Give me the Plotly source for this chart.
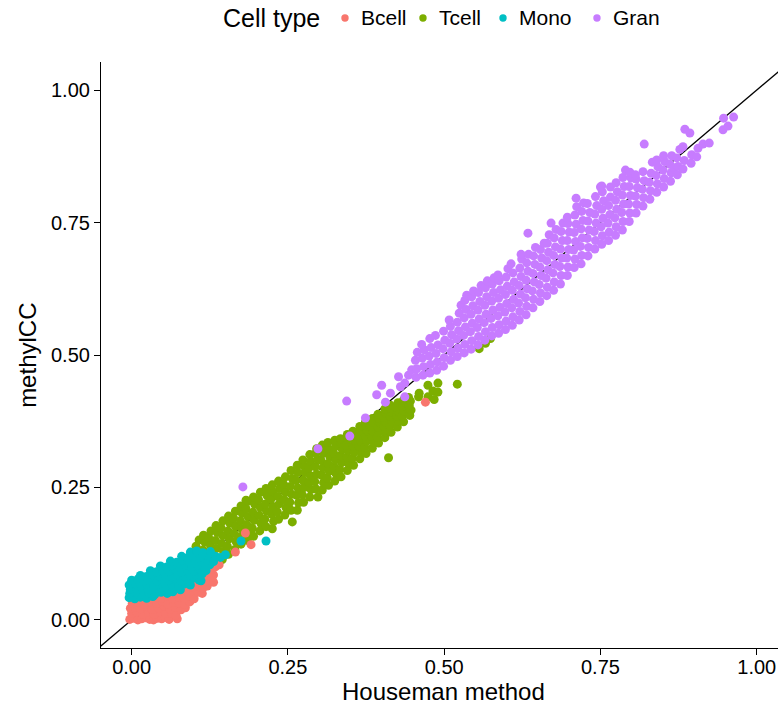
import plotly.graph_objects as go

# ---- data ----
cell_types = ["Bcell", "Tcell", "Mono", "Gran"]
colors = {"Bcell": "#F8766D", "Tcell": "#7CAE00", "Mono": "#00BFC4", "Gran": "#C77CFF"}
tick_vals = [0.0, 0.25, 0.5, 0.75, 1.0]
tick_text = ["0.00", "0.25", "0.50", "0.75", "1.00"]

bcell_pts = [
    (-0.003, 0.001), (0.004, 0.003), (0.010, 0.000), (0.016, 0.002), (0.022, 0.004), (0.029, 0.001),
    (0.035, 0.000), (0.041, 0.003), (0.048, 0.002), (0.054, 0.005), (0.060, 0.001), (0.073, 0.002),
    (0.000, 0.012), (0.008, 0.015), (0.018, 0.011), (0.027, 0.014), (0.036, 0.010), (0.045, 0.016),
    (0.055, 0.012), (0.064, 0.013), (0.071, 0.009),
    (-0.002, 0.022), (0.006, 0.024), (0.014, 0.021), (0.024, 0.025), (0.033, 0.020), (0.043, 0.023),
    (0.052, 0.026), (0.061, 0.021), (0.070, 0.024), (0.079, 0.019), (0.086, 0.023),
    (0.001, 0.031), (0.011, 0.033), (0.020, 0.030), (0.030, 0.034), (0.040, 0.031), (0.049, 0.035),
    (0.058, 0.030), (0.067, 0.033), (0.076, 0.032), (0.085, 0.029), (0.093, 0.034),
    (0.015, 0.042), (0.026, 0.040), (0.037, 0.043), (0.047, 0.041), (0.057, 0.044), (0.066, 0.040),
    (0.075, 0.043), (0.084, 0.041), (0.093, 0.045), (0.100, 0.040),
    (0.045, 0.052), (0.055, 0.050), (0.064, 0.054), (0.073, 0.051), (0.082, 0.053), (0.091, 0.050),
    (0.099, 0.055), (0.106, 0.052), (0.113, 0.050),
    (0.070, 0.062), (0.080, 0.060), (0.089, 0.064), (0.098, 0.061), (0.106, 0.063), (0.114, 0.060),
    (0.121, 0.064),
    (0.092, 0.074), (0.101, 0.072), (0.110, 0.076), (0.118, 0.073), (0.126, 0.075), (0.131, 0.071),
    (0.108, 0.086), (0.116, 0.084), (0.124, 0.088), (0.131, 0.085), (0.129, 0.081),
    (0.118, 0.098), (0.127, 0.096), (0.134, 0.100), (0.125, 0.108), (0.133, 0.110), (0.140, 0.104),
    (0.166, 0.128), (0.182, 0.164), (0.191, 0.142), (0.470, 0.411),
]

tcell_pts = [
    (0.105, 0.076), (0.107, 0.092), (0.104, 0.108), (0.106, 0.124), (0.103, 0.139), (0.108, 0.151),
    (0.115, 0.086), (0.113, 0.101), (0.116, 0.117), (0.114, 0.132), (0.117, 0.147), (0.115, 0.160),
    (0.125, 0.094), (0.127, 0.110), (0.124, 0.125), (0.126, 0.141), (0.123, 0.156), (0.127, 0.168),
    (0.135, 0.104), (0.133, 0.119), (0.136, 0.135), (0.134, 0.150), (0.137, 0.165), (0.135, 0.178),
    (0.145, 0.114), (0.147, 0.129), (0.144, 0.144), (0.146, 0.159), (0.143, 0.174), (0.146, 0.187),
    (0.155, 0.124), (0.153, 0.139), (0.156, 0.153), (0.154, 0.168), (0.157, 0.183), (0.155, 0.196),
    (0.165, 0.133), (0.167, 0.148), (0.164, 0.163), (0.166, 0.177), (0.163, 0.192), (0.166, 0.205),
    (0.175, 0.143), (0.173, 0.157), (0.176, 0.172), (0.174, 0.187), (0.177, 0.201), (0.175, 0.215),
    (0.185, 0.150), (0.187, 0.165), (0.184, 0.180), (0.186, 0.195), (0.183, 0.210), (0.186, 0.224),
    (0.195, 0.158), (0.193, 0.173), (0.196, 0.188), (0.194, 0.203), (0.197, 0.218), (0.195, 0.232),
    (0.205, 0.168), (0.207, 0.182), (0.204, 0.197), (0.206, 0.212), (0.203, 0.227), (0.206, 0.241),
    (0.215, 0.176), (0.213, 0.190), (0.216, 0.205), (0.214, 0.219), (0.217, 0.234), (0.215, 0.248),
    (0.225, 0.172), (0.227, 0.186), (0.224, 0.200), (0.226, 0.214), (0.223, 0.228), (0.226, 0.242), (0.225, 0.255),
    (0.235, 0.190), (0.233, 0.204), (0.236, 0.219), (0.234, 0.233), (0.237, 0.248), (0.235, 0.262),
    (0.245, 0.198), (0.247, 0.212), (0.244, 0.227), (0.246, 0.241), (0.243, 0.256), (0.246, 0.270),
    (0.257, 0.185), (0.255, 0.207), (0.253, 0.222), (0.256, 0.237), (0.254, 0.252), (0.257, 0.267), (0.255, 0.282),
    (0.265, 0.207), (0.267, 0.221), (0.264, 0.235), (0.266, 0.249), (0.263, 0.263), (0.266, 0.278), (0.265, 0.292),
    (0.275, 0.222), (0.273, 0.236), (0.276, 0.250), (0.274, 0.264), (0.277, 0.278), (0.275, 0.291), (0.274, 0.302),
    (0.285, 0.232), (0.287, 0.246), (0.284, 0.259), (0.286, 0.272), (0.283, 0.286), (0.286, 0.299), (0.285, 0.312),
    (0.298, 0.232), (0.295, 0.247), (0.293, 0.261), (0.296, 0.275), (0.294, 0.289), (0.297, 0.303), (0.295, 0.315), (0.296, 0.323),
    (0.305, 0.245), (0.307, 0.259), (0.304, 0.273), (0.306, 0.287), (0.303, 0.301), (0.306, 0.315), (0.305, 0.330),
    (0.315, 0.254), (0.313, 0.268), (0.316, 0.281), (0.314, 0.295), (0.317, 0.308), (0.315, 0.322), (0.314, 0.335),
    (0.325, 0.262), (0.327, 0.276), (0.324, 0.289), (0.326, 0.302), (0.323, 0.315), (0.326, 0.327), (0.325, 0.339),
    (0.335, 0.270), (0.333, 0.284), (0.336, 0.297), (0.334, 0.310), (0.337, 0.322), (0.335, 0.333), (0.334, 0.342),
    (0.345, 0.282), (0.347, 0.295), (0.344, 0.307), (0.346, 0.319), (0.343, 0.330), (0.346, 0.341), (0.345, 0.350),
    (0.355, 0.292), (0.353, 0.305), (0.356, 0.317), (0.354, 0.328), (0.357, 0.339), (0.355, 0.348), (0.354, 0.356),
    (0.365, 0.304), (0.367, 0.316), (0.364, 0.327), (0.366, 0.338), (0.363, 0.348), (0.366, 0.357), (0.365, 0.365),
    (0.375, 0.314), (0.373, 0.326), (0.376, 0.337), (0.374, 0.347), (0.377, 0.357), (0.375, 0.366), (0.374, 0.373),
    (0.385, 0.324), (0.387, 0.336), (0.384, 0.346), (0.386, 0.356), (0.383, 0.365), (0.386, 0.373), (0.385, 0.380),
    (0.395, 0.334), (0.393, 0.345), (0.396, 0.355), (0.394, 0.364), (0.397, 0.373), (0.395, 0.381), (0.394, 0.388),
    (0.405, 0.344), (0.407, 0.355), (0.404, 0.365), (0.406, 0.374), (0.403, 0.383), (0.406, 0.391), (0.405, 0.398),
    (0.415, 0.354), (0.413, 0.365), (0.416, 0.375), (0.414, 0.384), (0.417, 0.392), (0.415, 0.399), (0.414, 0.405),
    (0.425, 0.364), (0.427, 0.375), (0.424, 0.385), (0.426, 0.394), (0.423, 0.402), (0.426, 0.410),
    (0.435, 0.374), (0.433, 0.385), (0.436, 0.394), (0.434, 0.403), (0.437, 0.410), (0.435, 0.415),
    (0.445, 0.386), (0.447, 0.396), (0.444, 0.405), (0.446, 0.413), (0.443, 0.420),
    (0.411, 0.306), (0.183, 0.226),
    (0.459, 0.421), (0.460, 0.428), (0.474, 0.421), (0.474, 0.443),
    (0.482, 0.432), (0.484, 0.416), (0.490, 0.430), (0.490, 0.447),
    (0.521, 0.445), (0.556, 0.512), (0.566, 0.522), (0.574, 0.531),
]

mono_pts = [
    (-0.004, 0.042), (0.005, 0.040), (0.014, 0.043), (0.024, 0.041), (0.034, 0.044),
    (-0.003, 0.050), (0.007, 0.052), (0.017, 0.049), (0.027, 0.051), (0.037, 0.048), (0.047, 0.052),
    (0.057, 0.050), (0.066, 0.053),
    (-0.002, 0.058), (0.008, 0.056), (0.018, 0.059), (0.028, 0.057), (0.038, 0.060), (0.048, 0.056),
    (0.058, 0.058), (0.068, 0.060), (0.078, 0.057),
    (-0.004, 0.066), (0.006, 0.068), (0.015, 0.065), (0.025, 0.067), (0.035, 0.064), (0.045, 0.068),
    (0.055, 0.065), (0.065, 0.067), (0.075, 0.064), (0.085, 0.068), (0.094, 0.066),
    (0.000, 0.075), (0.010, 0.077), (0.020, 0.074), (0.030, 0.076), (0.040, 0.073), (0.050, 0.077),
    (0.060, 0.075), (0.070, 0.078), (0.080, 0.074), (0.090, 0.076), (0.100, 0.079), (0.108, 0.075),
    (0.014, 0.084), (0.024, 0.082), (0.034, 0.085), (0.044, 0.083), (0.054, 0.086), (0.064, 0.082),
    (0.074, 0.085), (0.084, 0.083), (0.094, 0.086), (0.104, 0.084), (0.113, 0.087),
    (0.030, 0.093), (0.040, 0.091), (0.050, 0.094), (0.060, 0.092), (0.070, 0.095), (0.080, 0.091),
    (0.090, 0.094), (0.100, 0.092), (0.110, 0.095), (0.119, 0.093),
    (0.046, 0.102), (0.056, 0.100), (0.066, 0.103), (0.076, 0.101), (0.086, 0.104), (0.096, 0.100),
    (0.106, 0.103), (0.116, 0.101), (0.125, 0.104),
    (0.062, 0.111), (0.072, 0.109), (0.082, 0.112), (0.092, 0.110), (0.102, 0.113), (0.112, 0.109),
    (0.122, 0.112), (0.131, 0.110),
    (0.080, 0.120), (0.090, 0.118), (0.100, 0.121), (0.110, 0.119), (0.121, 0.122), (0.134, 0.120),
    (0.142, 0.118), (0.094, 0.128), (0.104, 0.130), (0.114, 0.127), (0.126, 0.129),
    (0.111, 0.074), (0.150, 0.123), (0.175, 0.149), (0.215, 0.149),
]

gran_pts = [
    (0.178, 0.251), (0.298, 0.323), (0.344, 0.413), (0.349, 0.347), (0.374, 0.381),
    (0.392, 0.425), (0.400, 0.443), (0.406, 0.411), (0.414, 0.428), (0.427, 0.459),
    (0.430, 0.440), (0.437, 0.421), (0.437, 0.447), (0.443, 0.462), (0.448, 0.472),
    (0.455, 0.458), (0.456, 0.474), (0.454, 0.490), (0.457, 0.505),
    (0.466, 0.462), (0.467, 0.478), (0.465, 0.494), (0.468, 0.510), (0.464, 0.520),
    (0.477, 0.466), (0.478, 0.482), (0.476, 0.498), (0.479, 0.514), (0.477, 0.531),
    (0.488, 0.471), (0.489, 0.487), (0.487, 0.503), (0.490, 0.519), (0.486, 0.537),
    (0.499, 0.479), (0.500, 0.495), (0.498, 0.512), (0.501, 0.528), (0.499, 0.545),
    (0.510, 0.490), (0.511, 0.506), (0.509, 0.522), (0.512, 0.538), (0.510, 0.554), (0.508, 0.566),
    (0.521, 0.497), (0.522, 0.513), (0.520, 0.530), (0.523, 0.546), (0.521, 0.562), (0.524, 0.579), (0.527, 0.594),
    (0.532, 0.504), (0.533, 0.520), (0.531, 0.537), (0.534, 0.553), (0.532, 0.570), (0.535, 0.586), (0.533, 0.603), (0.536, 0.613),
    (0.543, 0.511), (0.544, 0.527), (0.542, 0.544), (0.545, 0.560), (0.543, 0.577), (0.546, 0.593), (0.544, 0.610), (0.547, 0.621),
    (0.554, 0.519), (0.555, 0.535), (0.553, 0.552), (0.556, 0.568), (0.554, 0.585), (0.557, 0.601), (0.555, 0.618), (0.559, 0.631),
    (0.565, 0.528), (0.566, 0.544), (0.564, 0.561), (0.567, 0.577), (0.565, 0.594), (0.568, 0.610), (0.566, 0.627), (0.569, 0.640),
    (0.576, 0.536), (0.577, 0.552), (0.575, 0.569), (0.578, 0.585), (0.576, 0.602), (0.579, 0.618), (0.577, 0.634), (0.580, 0.646),
    (0.587, 0.541), (0.588, 0.557), (0.586, 0.574), (0.589, 0.590), (0.587, 0.607), (0.590, 0.623), (0.588, 0.640), (0.586, 0.651),
    (0.598, 0.548), (0.599, 0.564), (0.597, 0.581), (0.600, 0.597), (0.598, 0.614), (0.601, 0.630), (0.599, 0.647), (0.602, 0.663),
    (0.609, 0.556), (0.610, 0.572), (0.608, 0.589), (0.611, 0.605), (0.609, 0.622), (0.612, 0.638), (0.610, 0.655), (0.607, 0.672),
    (0.620, 0.566), (0.621, 0.582), (0.619, 0.598), (0.622, 0.615), (0.620, 0.631), (0.623, 0.648), (0.621, 0.664), (0.624, 0.681), (0.623, 0.690),
    (0.631, 0.576), (0.632, 0.592), (0.630, 0.608), (0.633, 0.625), (0.631, 0.641), (0.634, 0.658), (0.632, 0.674), (0.635, 0.690), (0.634, 0.730),
    (0.642, 0.589), (0.643, 0.605), (0.641, 0.621), (0.644, 0.638), (0.642, 0.654), (0.645, 0.671), (0.643, 0.687), (0.646, 0.703),
    (0.653, 0.601), (0.654, 0.617), (0.652, 0.633), (0.655, 0.650), (0.653, 0.666), (0.656, 0.683), (0.654, 0.699), (0.660, 0.711),
    (0.664, 0.612), (0.665, 0.628), (0.663, 0.645), (0.666, 0.661), (0.664, 0.678), (0.667, 0.694), (0.665, 0.711), (0.668, 0.727), (0.671, 0.749),
    (0.675, 0.622), (0.676, 0.638), (0.674, 0.655), (0.677, 0.671), (0.675, 0.688), (0.678, 0.704), (0.676, 0.721), (0.679, 0.737),
    (0.686, 0.634), (0.687, 0.650), (0.685, 0.667), (0.688, 0.683), (0.686, 0.700), (0.689, 0.716), (0.687, 0.733), (0.690, 0.749),
    (0.697, 0.650), (0.698, 0.666), (0.696, 0.683), (0.699, 0.699), (0.697, 0.716), (0.700, 0.732), (0.698, 0.748), (0.697, 0.760),
    (0.708, 0.665), (0.709, 0.681), (0.707, 0.698), (0.710, 0.714), (0.708, 0.731), (0.711, 0.747), (0.709, 0.764), (0.712, 0.780), (0.711, 0.796),
    (0.719, 0.672), (0.720, 0.688), (0.718, 0.705), (0.721, 0.721), (0.719, 0.738), (0.722, 0.754), (0.720, 0.771), (0.723, 0.787),
    (0.730, 0.687), (0.731, 0.703), (0.729, 0.720), (0.732, 0.736), (0.730, 0.753), (0.733, 0.769), (0.729, 0.786),
    (0.741, 0.700), (0.742, 0.716), (0.740, 0.733), (0.743, 0.749), (0.741, 0.766), (0.744, 0.782), (0.742, 0.799), (0.750, 0.817),
    (0.752, 0.709), (0.753, 0.725), (0.751, 0.742), (0.754, 0.758), (0.752, 0.775), (0.755, 0.791), (0.753, 0.808), (0.752, 0.819),
    (0.763, 0.716), (0.764, 0.732), (0.762, 0.749), (0.765, 0.765), (0.763, 0.782), (0.766, 0.798), (0.766, 0.817),
    (0.774, 0.726), (0.775, 0.742), (0.773, 0.759), (0.776, 0.775), (0.774, 0.792), (0.777, 0.808), (0.775, 0.825),
    (0.785, 0.736), (0.786, 0.752), (0.784, 0.769), (0.787, 0.785), (0.785, 0.802), (0.788, 0.818), (0.786, 0.835), (0.790, 0.849),
    (0.796, 0.752), (0.797, 0.768), (0.795, 0.785), (0.798, 0.801), (0.796, 0.818), (0.799, 0.834), (0.797, 0.845),
    (0.807, 0.768), (0.808, 0.784), (0.806, 0.800), (0.809, 0.816), (0.807, 0.832), (0.806, 0.840),
    (0.818, 0.781), (0.819, 0.797), (0.817, 0.813), (0.820, 0.829), (0.818, 0.846), (0.820, 0.898),
    (0.829, 0.794), (0.830, 0.810), (0.828, 0.826), (0.831, 0.843), (0.833, 0.864),
    (0.840, 0.807), (0.841, 0.823), (0.839, 0.839), (0.842, 0.855), (0.840, 0.868),
    (0.851, 0.817), (0.852, 0.833), (0.850, 0.849), (0.853, 0.865), (0.851, 0.876),
    (0.862, 0.828), (0.863, 0.844), (0.861, 0.860), (0.864, 0.876), (0.868, 0.853),
    (0.873, 0.840), (0.874, 0.856), (0.872, 0.872), (0.877, 0.888),
    (0.882, 0.851), (0.884, 0.867), (0.882, 0.893), (0.885, 0.926),
    (0.895, 0.862), (0.893, 0.919), (0.896, 0.878), (0.904, 0.874), (0.906, 0.890),
    (0.914, 0.898), (0.924, 0.900), (0.946, 0.925), (0.954, 0.932), (0.947, 0.947), (0.963, 0.949),
]

points = {"Bcell": bcell_pts, "Tcell": tcell_pts, "Mono": mono_pts, "Gran": gran_pts}

# ---- figure ----
fig = go.Figure()

# identity line y = x (drawn underneath the points)
fig.add_trace(go.Scatter(x=[-0.2, 1.2], y=[-0.2, 1.2], mode="lines",
                         line=dict(color="black", width=1.3),
                         showlegend=False, hoverinfo="skip"))

draw_order = ["Tcell", "Bcell", "Mono", "Gran"]
for ct in draw_order:
    pts = points[ct]
    fig.add_trace(go.Scatter(
        x=[p[0] for p in pts], y=[p[1] for p in pts],
        mode="markers", name=ct, showlegend=False,
        marker=dict(color=colors[ct], size=9, line=dict(width=0)),
    ))

font_family = "Liberation Sans, Arial, sans-serif"
axis_common = dict(
    showgrid=False, zeroline=False, showline=True, linecolor="black", linewidth=1.2,
    ticks="outside", ticklen=6, tickwidth=1.2, tickcolor="black",
    tickvals=tick_vals, ticktext=tick_text,
    tickfont=dict(size=20, color="black", family=font_family),
    automargin=False,
)

# legend drawn at the top, ggplot-style (title + coloured dots + labels)
legend_dot_x = [0.3604, 0.4756, 0.5938, 0.7326]
legend_lab_x = [0.3811, 0.4963, 0.6145, 0.7533]
legend_y = 1.0751
annotations = [
    dict(text="Cell type", xref="paper", yref="paper", x=0.1773, y=legend_y,
         xanchor="left", yanchor="middle", showarrow=False, font=dict(size=25)),
    dict(text="Houseman method", xref="paper", yref="paper", x=0.506, y=-0.0745,
         xanchor="center", yanchor="middle", showarrow=False, font=dict(size=24)),
    dict(text="methylCC", xref="paper", yref="paper", x=-0.1095, y=0.5,
         xanchor="center", yanchor="middle", textangle=-90, showarrow=False,
         font=dict(size=24)),
]
shapes = []
for ct, dx, lx in zip(cell_types, legend_dot_x, legend_lab_x):
    annotations.append(dict(text=ct, xref="paper", yref="paper", x=lx, y=legend_y,
                            xanchor="left", yanchor="middle", showarrow=False,
                            font=dict(size=21)))
    shapes.append(dict(type="circle", xref="paper", yref="paper",
                       xsizemode="pixel", ysizemode="pixel",
                       xanchor=dx, yanchor=legend_y,
                       x0=-3.7, x1=3.7, y0=-3.7, y1=3.7,
                       fillcolor=colors[ct], line=dict(width=0)))

fig.update_layout(
    width=778, height=708,
    paper_bgcolor="white", plot_bgcolor="white",
    margin=dict(l=101, r=0, t=62, b=60),
    font=dict(family=font_family, color="black"),
    xaxis=dict(range=[-0.049, 1.034], ticklabelstandoff=-5, **axis_common),
    yaxis=dict(range=[-0.053, 1.053], **axis_common),
    showlegend=False,
    annotations=annotations,
    shapes=shapes,
)

fig.write_html("out.html", config={"displayModeBar": False},
               post_script="document.body.style.margin='0px';")
